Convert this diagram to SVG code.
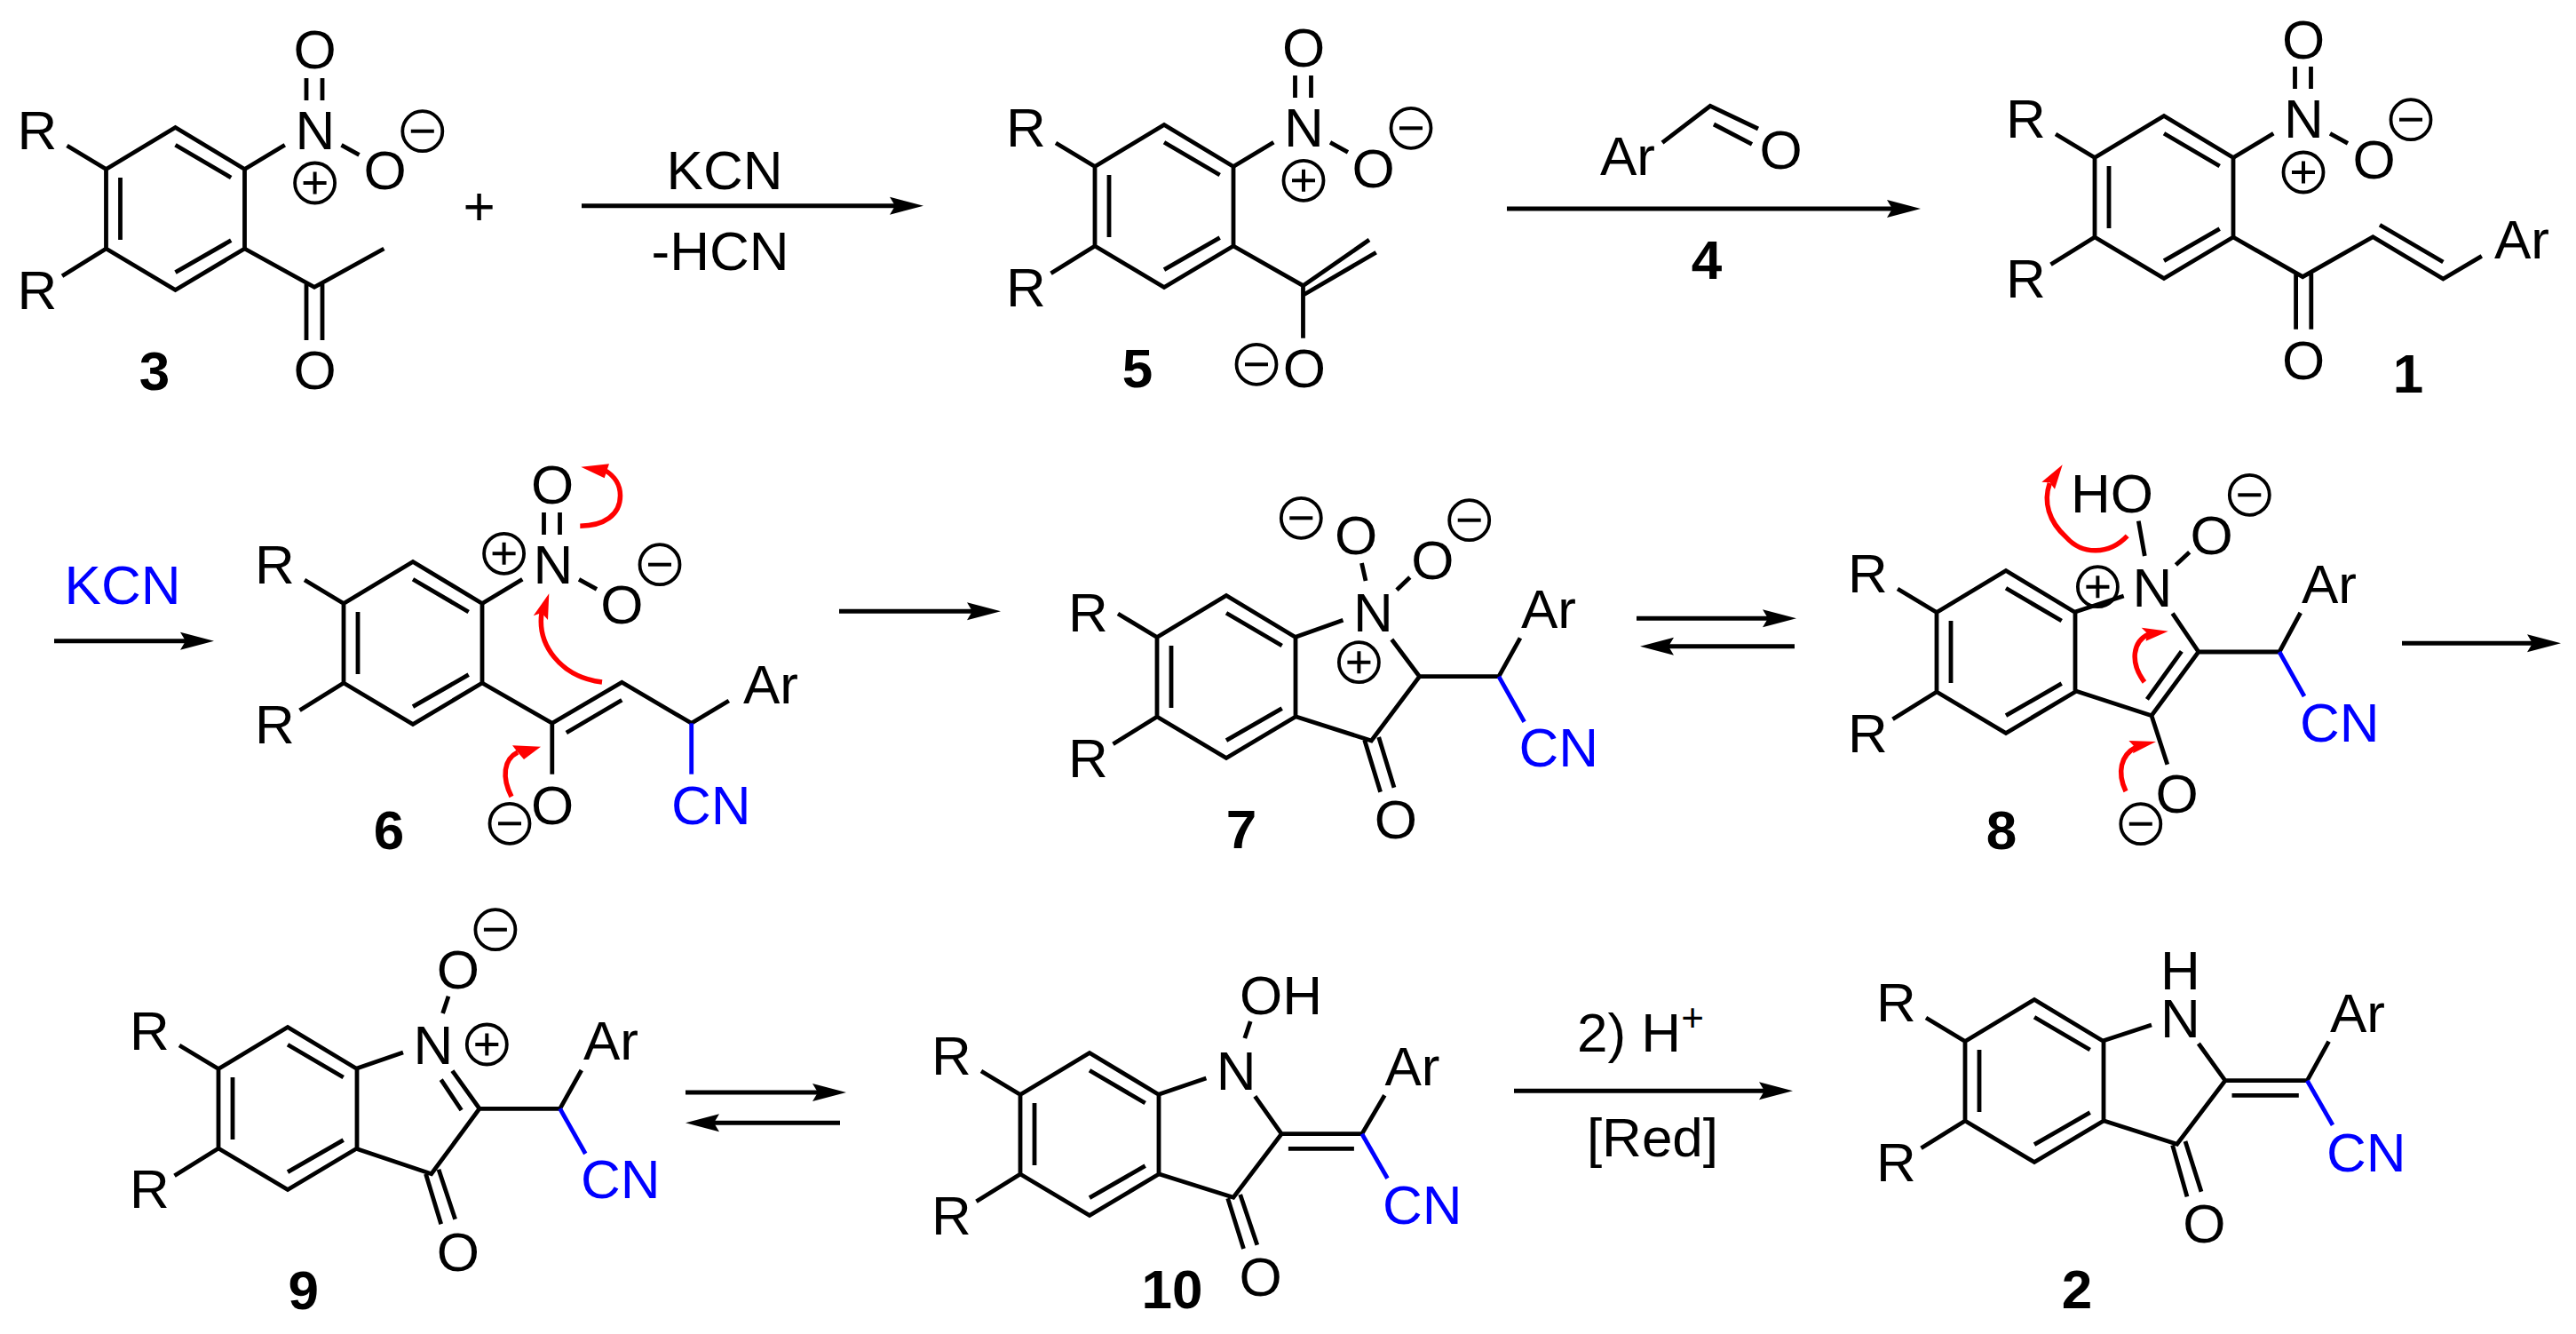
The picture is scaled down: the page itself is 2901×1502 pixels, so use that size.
<svg xmlns="http://www.w3.org/2000/svg" xmlns:xlink="http://www.w3.org/1999/xlink" width="2901" height="1502" viewBox="0 0 2901 1502">
<style>
text{font-family:"Liberation Sans",Arial,sans-serif;font-size:62px;fill:#000}
.m{text-anchor:middle}
.lab{font-weight:bold;text-anchor:middle}
.blue{fill:#0000ff}
.b{fill:none;stroke:#000;stroke-width:4.8}
.bb{fill:none;stroke:#0000ff;stroke-width:4.8}
.arr{fill:none;stroke:#000;stroke-width:5;marker-end:url(#head)}
.ra{fill:none;stroke:#ff0000;stroke-width:5.5}
.rh{fill:#ff0000;stroke:none}
.cc{fill:none;stroke:#000;stroke-width:3.8}
.cb{fill:none;stroke:#000;stroke-width:4}
</style>
<defs>
<marker id="head" markerUnits="userSpaceOnUse" markerWidth="40" markerHeight="24" refX="6" refY="12" orient="auto"><path d="M0,2L38,12L0,22L6,12Z" fill="#000"/></marker>
<g id="ring"><path class="b" d="M-78,-44.5L0,-91.5L78,-44.5V45L0,91.5L-78,45ZM-62,-35V35M0,-71.7L62.7,-35M0,71.7L62.7,35.7M-78,-44.5L-122,-71M-78,45L-127.5,75.7"/></g>
<g id="nitro"><path class="b" d="M78,-44.5L123.3,-71.7M147.5,-147V-122M165.5,-147V-122M187,-71.7L207,-60.7"/></g>
<g id="plus"><circle class="cc" r="22.5"/><path class="cb" d="M-13,0H13M0,-12.5V12.5"/></g>
<g id="minus"><circle class="cc" r="22.5"/><path class="cb" d="M-13,0H13"/></g>
</defs>

<g id="connectors">
<path class="arr" d="M655,231.7H1008"/>
<path class="arr" d="M1697,235H2131"/>
<path class="arr" d="M61,721.7H209"/>
<path class="arr" d="M945,688.3H1095"/>
<path class="arr" d="M1843,696.3H1991"/>
<path class="arr" d="M2021,727.7H1879"/>
<path class="arr" d="M2705,724.3H2852"/>
<path class="arr" d="M772,1230H921"/>
<path class="arr" d="M946,1264.3H804"/>
<path class="arr" d="M1705,1228.3H1987"/>
</g>

<g id="reagents">
<text class="m" x="539.5" y="253">+</text>
<text class="m" x="816" y="212.7">KCN</text>
<text class="m" x="811" y="304.3">-HCN</text>
<text class="m blue" x="138" y="680">KCN</text>
<text x="1776" y="1184.3">2) H<tspan font-size="44" dy="-23">+</tspan></text>
<text class="m" x="1861" y="1301.7">[Red]</text>
</g>

<g id="node-4">
<path class="b" d="M1872,160.7L1926,119.3L1980,145M1930,140L1973,162.3"/>
<text x="1802" y="196.7">Ar</text>
<text class="m" x="2005.6" y="190">O</text>
<text class="lab" x="1922" y="314">4</text>
</g>

<g id="node-3">
<use href="#ring" x="197.5" y="235"/><use href="#nitro" x="197.5" y="235"/>
<path class="b" d="M275.5,280L354,323.3L432.4,280M345,320V383M363,320V383"/>
<text x="19.5" y="168">R</text><text x="19.5" y="348">R</text>
<text class="m" x="355" y="168">N</text><text class="m" x="354.5" y="77">O</text><text class="m" x="433.5" y="213">O</text><text class="m" x="354.6" y="438">O</text>
<use href="#plus" x="354.6" y="206"/><use href="#minus" x="475.8" y="147.7"/>
<text class="lab" x="174" y="439">3</text>
</g>

<g id="node-5">
<use href="#ring" x="1311" y="232"/><use href="#nitro" x="1311" y="232"/>
<path class="b" d="M1389,277L1467.5,321.7L1542,270M1467.5,332.3L1549.7,284.3M1467.5,321.7V380.7"/>
<text x="1133" y="165">R</text><text x="1133" y="345">R</text>
<text class="m" x="1468.5" y="165">N</text><text class="m" x="1468" y="74.5">O</text><text class="m" x="1546.6" y="211">O</text><text class="m" x="1468.8" y="436">O</text>
<use href="#plus" x="1468" y="203.3"/><use href="#minus" x="1589" y="144.3"/><use href="#minus" x="1415" y="410.3"/>
<text class="lab" x="1281" y="435.7">5</text>
</g>

<g id="node-1">
<use href="#ring" x="2437" y="222"/><use href="#nitro" x="2437" y="222"/>
<path class="b" d="M2515,267L2593.2,311.7L2672.3,266.7L2751.4,314L2794.8,288.3M2680,253.3L2751.4,295M2585.6,308V370.7M2602.8,308V370.7"/>
<text x="2259" y="155">R</text><text x="2259" y="335">R</text>
<text class="m" x="2594.5" y="155">N</text><text class="m" x="2594" y="65.5">O</text><text class="m" x="2673.6" y="201">O</text><text class="m" x="2594" y="427">O</text>
<text x="2809" y="290.7">Ar</text>
<use href="#plus" x="2594" y="194"/><use href="#minus" x="2715" y="134.7"/>
<text class="lab" x="2712" y="441.7">1</text>
</g>

<g id="node-6">
<use href="#ring" x="465" y="724"/><use href="#nitro" x="465" y="724"/>
<path class="b" d="M543,769L621.8,814.3L700.3,768.3L778.7,814.3L820.8,789M637.8,825L700.3,788.3M621.8,814.3V871.7"/>
<path class="bb" d="M778.7,814.3V871.7"/>
<text x="287" y="657">R</text><text x="287" y="836.5">R</text>
<text class="m" x="623" y="657">N</text><text class="m" x="622" y="567">O</text><text class="m" x="700.3" y="702">O</text><text class="m" x="622" y="928">O</text>
<text x="837" y="791.7">Ar</text><text class="blue" x="756" y="927.7">CN</text>
<use href="#plus" x="567.6" y="623.3"/><use href="#minus" x="743" y="635.7"/><use href="#minus" x="574" y="927.3"/>
<text class="lab" x="438" y="956">6</text>
<path class="ra" d="M653.3,592.3C680,592 698.5,580 698.5,558C698.5,546 692,536 682,530"/><path class="rh" d="M654.3,525.7L686,522.3L683,531L680.7,538.3Z"/>
<path class="ra" d="M678,768C630,762 605,725 610,690"/><path class="rh" d="M618.3,668.3L617,698L610,690L600.7,693.3Z"/>
<path class="ra" d="M576,897C565,875 567,855 583,847"/><path class="rh" d="M609,840.7L590,855L583,847L577,839.3Z"/>
</g>

<g id="node-7">
<use href="#ring" x="1381" y="762"/>
<path class="b" d="M1459,717.3L1512.5,698.3M1567.3,720L1598.6,761.7L1544.4,834L1459,806.7M1536.7,833.3L1554.6,891.7M1552.7,830L1570,886.7M1598.6,761.7H1687.9L1712,718.3M1533.5,634L1538,654M1587.8,650L1573,664.3"/>
<path class="bb" d="M1687.9,761.7L1716.6,812.7"/>
<text x="1203" y="711">R</text><text x="1203" y="875">R</text>
<text class="m" x="1546.3" y="711">N</text><text class="m" x="1527.2" y="624">O</text><text class="m" x="1613.3" y="652">O</text><text class="m" x="1571.8" y="944">O</text>
<text x="1713" y="706.7">Ar</text><text class="blue" x="1710.5" y="862.7">CN</text>
<use href="#plus" x="1530.4" y="745.7"/><use href="#minus" x="1465.3" y="583.3"/><use href="#minus" x="1654.7" y="585.7"/>
<text class="lab" x="1398" y="955">7</text>
</g>

<g id="node-8">
<use href="#ring" x="2259" y="734"/>
<path class="b" d="M2336.9,689L2391.7,671M2446.6,690.7L2475.9,734L2423,805.7L2336.9,777.7M2456.8,733.3L2417.9,787.3M2423,805.7L2440.8,860.7M2475.9,734H2567L2590.7,690M2408.3,586.7L2415.3,626M2465.7,621.7L2450.4,636"/>
<path class="bb" d="M2567,734L2595,784"/>
<text x="2081" y="667">R</text><text x="2081" y="847">R</text>
<text class="m" x="2423.9" y="683.3">N</text><text class="m" x="2451.7" y="915">O</text><text class="m" x="2490.6" y="623.7">O</text>
<text x="2332" y="576.7">HO</text>
<text x="2592" y="679">Ar</text><text class="blue" x="2590" y="835">CN</text>
<use href="#plus" x="2362.4" y="660.7"/><use href="#minus" x="2533.3" y="557.3"/><use href="#minus" x="2410.8" y="927.7"/>
<text class="lab" x="2254" y="956">8</text>
<path class="ra" d="M2395.7,603.3C2375,625 2345,625 2327,605C2307,587 2301,565 2308.3,544"/><path class="rh" d="M2322.7,523.3L2314,550.7L2308.3,543.3L2299.3,542.7Z"/>
<path class="ra" d="M2415,768C2398,745 2402,722 2420,714"/><path class="rh" d="M2441.7,710.7L2416.7,721.7L2418,713L2411.7,706.7Z"/>
<path class="ra" d="M2394,891C2384,870 2388,850 2406,841"/><path class="rh" d="M2428,835L2402,848.3L2404,841L2397.4,834Z"/>
</g>

<g id="node-9">
<use href="#ring" x="324" y="1248"/>
<path class="b" d="M401,1203.3L454,1185M509.4,1205.7L540,1248.3L485.8,1321.7L401,1293.3M496.7,1215.7L519.6,1250M479.5,1321.7L496.7,1378.3M494,1316.7L512.6,1372.7M540,1248.3H630.6L654.8,1205M505,1121.7L498.6,1141"/>
<path class="bb" d="M630.6,1248.3L659.3,1299"/>
<text x="146" y="1181.7">R</text><text x="146" y="1360">R</text>
<text class="m" x="488" y="1198.3">N</text><text class="m" x="515.8" y="1431">O</text><text class="m" x="515.8" y="1113">O</text>
<text x="657" y="1192.7">Ar</text><text class="blue" x="654" y="1349.3">CN</text>
<use href="#plus" x="548.3" y="1176"/><use href="#minus" x="557.9" y="1046.7"/>
<text class="lab" x="341.7" y="1474">9</text>
</g>

<g id="node-10">
<use href="#ring" x="1227" y="1277"/>
<path class="b" d="M1304.8,1232.3L1358.4,1214M1413.3,1234.3L1443.2,1276.7L1389,1348.3L1304.8,1321.7M1382.7,1349.3L1400.5,1406M1396.7,1345L1415.8,1401.7M1443.2,1276.7H1533.8L1559.3,1233.3M1450.9,1293.3H1524.9M1408.2,1150L1401.8,1169"/>
<path class="bb" d="M1533.8,1276.7L1562.5,1326.7"/>
<text x="1049" y="1210">R</text><text x="1049" y="1390">R</text>
<text class="m" x="1392.2" y="1226.7">N</text><text class="m" x="1419.6" y="1459">O</text>
<text x="1396" y="1141.7">OH</text>
<text x="1559.5" y="1221.7">Ar</text><text class="blue" x="1557" y="1377.7">CN</text>
<text class="lab" x="1320" y="1473">10</text>
</g>

<g id="node-2">
<use href="#ring" x="2291" y="1217"/>
<path class="b" d="M2368.8,1171.7L2423,1154M2475.9,1175L2505.9,1216.7L2451.7,1288.3L2368.8,1261.7M2446.6,1289.3L2463,1347.3M2461,1285L2479,1341.7M2505.9,1216.7H2598.3L2622.6,1172.7M2513.5,1233.3H2588.8"/>
<path class="bb" d="M2598.3,1216.7L2627,1266.7"/>
<text x="2113" y="1150">R</text><text x="2113" y="1330">R</text>
<text class="m" x="2455.5" y="1114.3">H</text><text class="m" x="2455.5" y="1167.7">N</text><text class="m" x="2482.3" y="1399">O</text>
<text x="2624" y="1161.7">Ar</text><text class="blue" x="2620" y="1319">CN</text>
<text class="lab" x="2339" y="1473">2</text>
</g>
</svg>
